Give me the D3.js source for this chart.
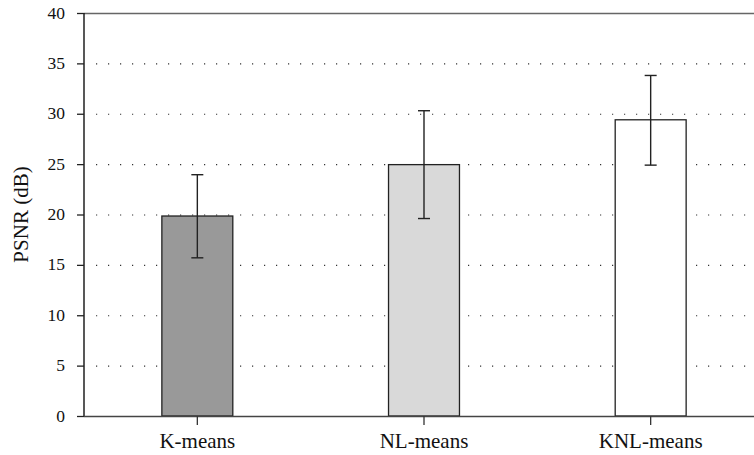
<!DOCTYPE html>
<html lang="en">
<head>
  <meta charset="UTF-8">
  <title>PSNR bar chart</title>
  <script src="https://d3js.org/d3.v7.min.js"></script>
  <style>
    body { margin: 0; background: #fff; }
    .tick-label { font: 17.5px "Liberation Serif", serif; fill: #111; }
    .cat-label { font: 21px "Liberation Serif", serif; fill: #111; }
  </style>
</head>
<body>
  <svg id="chart" width="754" height="455"></svg>
  <script>
    const categories = ['K-means', 'NL-means', 'KNL-means'];
    const means = [19.85, 24.95, 29.4];
    const errLow = [15.7, 19.6, 24.9];
    const errHigh = [23.95, 30.3, 33.8];
    const fills = ['#999999', '#d9d9d9', '#ffffff'];
    const yTicks = [0, 5, 10, 15, 20, 25, 30, 35, 40];

    const plotLeft = 84, plotRight = 764, plotTop = 13, plotBottom = 416;
    const svg = d3.select('#chart');

    const x = d3.scaleBand()
      .domain(categories)
      .range([plotLeft, plotRight])
      .paddingInner(0.687)
      .paddingOuter(0.3435);

    const y = d3.scaleLinear().domain([0, 40]).range([plotBottom, plotTop]);

    // dotted grid
    svg.append('g').selectAll('line')
      .data(yTicks.filter(d => d > 0))
      .enter().append('line')
      .attr('x1', plotLeft + 12).attr('x2', 754)
      .attr('y1', d => y(d) + 0.5).attr('y2', d => y(d) + 0.5)
      .attr('stroke', '#333')
      .attr('stroke-width', 1.2)
      .attr('stroke-dasharray', '1.2,10.8');

    // top frame line
    svg.append('line')
      .attr('x1', plotLeft).attr('x2', 754)
      .attr('y1', y(40) + 0.5).attr('y2', y(40) + 0.5)
      .attr('stroke', '#666').attr('stroke-width', 1.3);

    // bars
    svg.append('g').selectAll('rect')
      .data(categories)
      .enter().append('rect')
      .attr('x', d => x(d))
      .attr('y', (d, i) => y(means[i]))
      .attr('width', x.bandwidth())
      .attr('height', (d, i) => y(0) - y(means[i]))
      .attr('fill', (d, i) => fills[i])
      .attr('stroke', '#222')
      .attr('stroke-width', 1.3);

    // error bars
    const cx = d => x(d) + x.bandwidth() / 2;
    const err = svg.append('g').attr('stroke', '#222').attr('stroke-width', 1.4);
    categories.forEach((c, i) => {
      err.append('line')
        .attr('x1', cx(c)).attr('x2', cx(c))
        .attr('y1', y(errLow[i])).attr('y2', y(errHigh[i]));
      [errLow[i], errHigh[i]].forEach(v => {
        err.append('line')
          .attr('x1', cx(c) - 6).attr('x2', cx(c) + 6)
          .attr('y1', y(v)).attr('y2', y(v));
      });
    });

    // y axis
    const yAxis = svg.append('g');
    yAxis.append('line')
      .attr('x1', plotLeft).attr('x2', plotLeft)
      .attr('y1', plotTop).attr('y2', plotBottom)
      .attr('stroke', '#111').attr('stroke-width', 1.4);
    yAxis.selectAll('.yt')
      .data(yTicks)
      .enter().append('line')
      .attr('x1', plotLeft - 7).attr('x2', plotLeft)
      .attr('y1', d => y(d) + 0.5).attr('y2', d => y(d) + 0.5)
      .attr('stroke', '#222').attr('stroke-width', 1.3);
    yAxis.selectAll('text')
      .data(yTicks)
      .enter().append('text')
      .attr('class', 'tick-label')
      .attr('x', plotLeft - 19)
      .attr('y', d => y(d))
      .attr('dy', '0.32em')
      .attr('text-anchor', 'end')
      .text(d => d);

    // x axis
    const xAxis = svg.append('g');
    xAxis.append('line')
      .attr('x1', plotLeft).attr('x2', 754)
      .attr('y1', plotBottom + 0.5).attr('y2', plotBottom + 0.5)
      .attr('stroke', '#444').attr('stroke-width', 1.4);
    xAxis.selectAll('.xt')
      .data(categories)
      .enter().append('line')
      .attr('x1', d => cx(d)).attr('x2', d => cx(d))
      .attr('y1', plotBottom).attr('y2', plotBottom + 9)
      .attr('stroke', '#333').attr('stroke-width', 1.3);
    xAxis.selectAll('text')
      .data(categories)
      .enter().append('text')
      .attr('class', 'cat-label')
      .attr('x', d => cx(d))
      .attr('y', 448)
      .attr('text-anchor', 'middle')
      .text(d => d);

    // y label
    svg.append('text')
      .attr('class', 'cat-label')
      .attr('transform', `translate(28,${(plotTop + plotBottom) / 2}) rotate(-90)`)
      .attr('text-anchor', 'middle')
      .text('PSNR (dB)');
  </script>
</body>
</html>
